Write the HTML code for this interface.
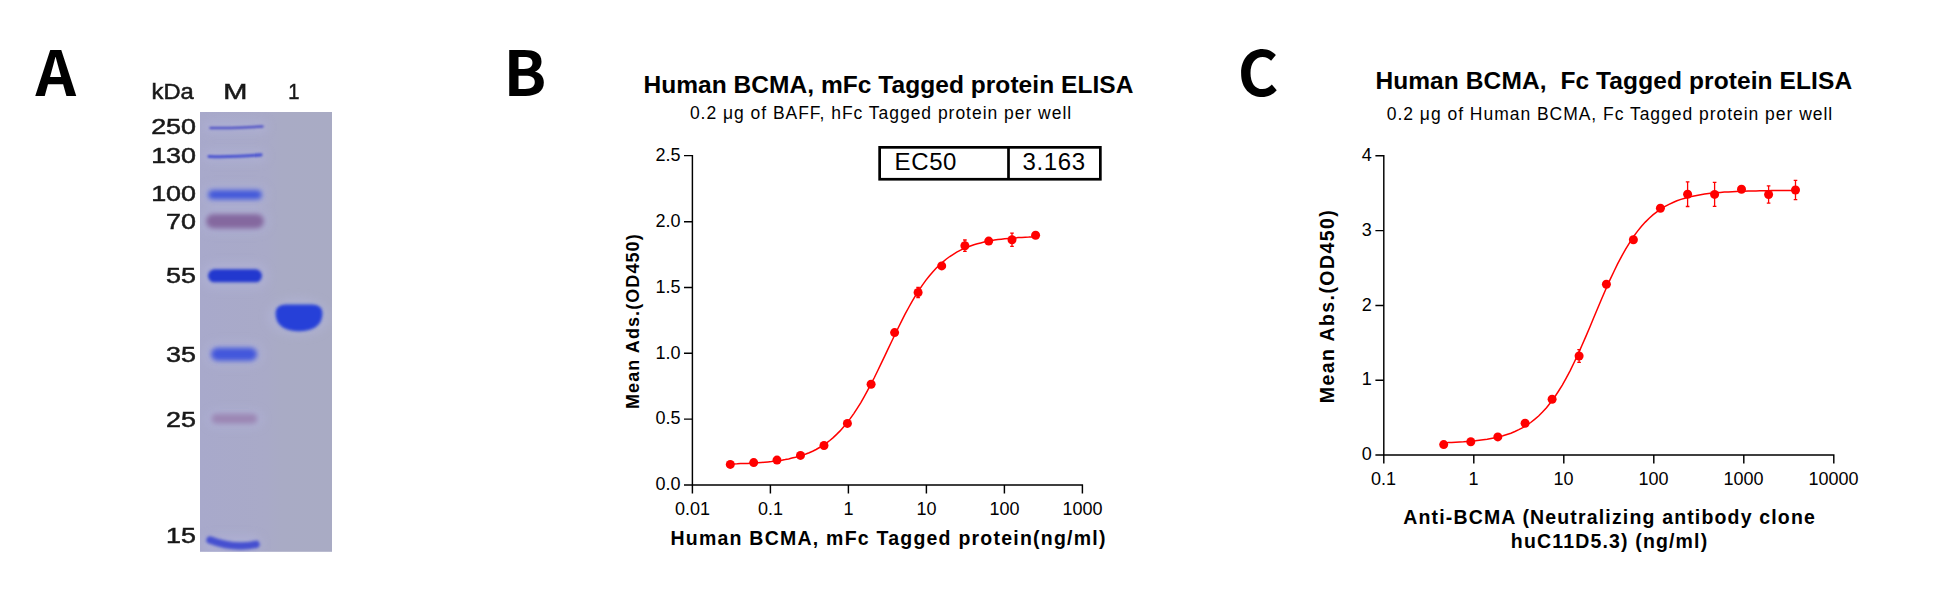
<!DOCTYPE html>
<html lang="en"><head><meta charset="utf-8"><title>BCMA protein figures</title>
<style>html,body{margin:0;padding:0;background:#fff}body{width:1956px;height:606px;overflow:hidden}svg{display:block}text{font-family:"Liberation Sans", sans-serif;fill:#000}.b{font-weight:bold}.pl{font-family:"Noto Sans CJK SC","Noto Sans CJK JP","DejaVu Sans",sans-serif;font-weight:bold}.gl{font-family:"Liberation Sans", sans-serif;fill:#1a1a1a}</style></head><body>
<svg width="1956" height="606" viewBox="0 0 1956 606">
<defs><filter id="bl0" x="-20%" y="-300%" width="140%" height="700%"><feGaussianBlur stdDeviation="0.95"/></filter><filter id="bl1" x="-20%" y="-100%" width="140%" height="300%"><feGaussianBlur stdDeviation="1.6"/></filter><filter id="bl2" x="-20%" y="-100%" width="140%" height="300%"><feGaussianBlur stdDeviation="2.4"/></filter><filter id="bl3" x="-30%" y="-100%" width="160%" height="300%"><feGaussianBlur stdDeviation="4"/></filter><filter id="tb" x="-10%" y="-30%" width="120%" height="160%"><feGaussianBlur stdDeviation="0.55"/></filter><linearGradient id="gbg" x1="0" x2="1" y1="0" y2="0"><stop offset="0" stop-color="#a8a9cb"/><stop offset="0.5" stop-color="#a9aac8"/><stop offset="0.62" stop-color="#a9abc5"/><stop offset="1" stop-color="#a9abc4"/></linearGradient><clipPath id="gclip"><rect x="200" y="112" width="132" height="439.8"/></clipPath></defs>
<rect width="1956" height="606" fill="#fff"/>
<text class="pl" transform="translate(35.6,96) scale(1.02,1)" font-size="62">A</text>
<text class="pl" transform="translate(503.4,96) scale(1.015,1)" font-size="62">B</text>
<text class="pl" x="1237.8" y="96" font-size="62">C</text>
<g id="gel">
<rect x="200" y="112" width="132" height="439.8" fill="url(#gbg)"/>
<g clip-path="url(#gclip)">
<g filter="url(#bl3)" opacity="0.5" fill="#b4b6dc">
<rect x="204.0" y="121.0" width="64.0" height="12.0" rx="6.0"/>
<rect x="203.0" y="150.0" width="64.0" height="12.0" rx="6.0"/>
<rect x="202.0" y="185.0" width="66.0" height="20.0" rx="10.0"/>
<rect x="201.0" y="209.0" width="68.0" height="24.0" rx="12.0"/>
<rect x="202.0" y="263.0" width="66.0" height="26.0" rx="13.0"/>
<rect x="205.0" y="342.0" width="58.0" height="24.0" rx="12.0"/>
<rect x="207.0" y="410.0" width="56.0" height="18.0" rx="9.0"/>
<rect x="202.0" y="535.0" width="60.0" height="18.0" rx="9.0"/>
<ellipse cx="298.5" cy="317" rx="31" ry="19"/>
</g>
<path d="M210.5,127.9 Q232,128.5 262.5,126.5" stroke="#5254c6" stroke-width="2.5" stroke-linecap="round" fill="none" filter="url(#bl0)"/>
<path d="M209,156.5 Q230,157.3 261,154.9" stroke="#4a52d0" stroke-width="3.1" stroke-linecap="round" fill="none" filter="url(#bl0)"/>
<rect x="208.0" y="190.1" width="54.0" height="9.5" rx="4.8" fill="#4258da" filter="url(#bl2)"/>
<rect x="206.0" y="213.9" width="58.0" height="14.5" rx="7.2" fill="#84679f" filter="url(#bl2)"/>
<rect x="208.0" y="269.3" width="54.0" height="13.0" rx="6.5" fill="#2238cf" filter="url(#bl1)"/>
<rect x="211.0" y="347.7" width="46.0" height="13.0" rx="6.5" fill="#4256dc" filter="url(#bl2)"/>
<rect x="211.5" y="413.8" width="46.0" height="10.0" rx="5.0" fill="#9b86b4" filter="url(#bl2)"/>
<path d="M210,540 Q234,549.2 256,544.3" stroke="#444fd0" stroke-width="7.4" stroke-linecap="round" fill="none" filter="url(#bl1)"/>
<path d="M275.6,312 Q276.5,304.6 286,304.4 L312,304.4 Q321.5,304.6 322.4,312 C322.8,320.5 319,327.2 309,330 Q299,332.4 289,330 C279,327.2 275.2,320.5 275.6,312 Z" fill="#2540d8" filter="url(#bl1)"/>
</g>
<text class="gl" transform="translate(151.6,99.3) scale(1.08,1)" font-size="22" text-anchor="start" stroke="#1a1a1a" stroke-width="0.5" filter="url(#tb)">kDa</text>
<text class="gl" transform="translate(223.2,99.3) scale(1.37,1)" font-size="21.2" text-anchor="start" stroke="#1a1a1a" stroke-width="0.5" filter="url(#tb)">M</text>
<text class="gl" transform="translate(288.2,99.3) scale(0.95,1)" font-size="21.2" text-anchor="start" stroke="#1a1a1a" stroke-width="0.5" filter="url(#tb)">1</text>
<text class="gl" transform="translate(196.0,133.8) scale(1.25,1)" font-size="21.5" text-anchor="end" stroke="#1a1a1a" stroke-width="0.5" filter="url(#tb)">250</text>
<text class="gl" transform="translate(196.0,163.2) scale(1.25,1)" font-size="21.5" text-anchor="end" stroke="#1a1a1a" stroke-width="0.5" filter="url(#tb)">130</text>
<text class="gl" transform="translate(196.0,201.2) scale(1.25,1)" font-size="21.5" text-anchor="end" stroke="#1a1a1a" stroke-width="0.5" filter="url(#tb)">100</text>
<text class="gl" transform="translate(196.0,229) scale(1.25,1)" font-size="21.5" text-anchor="end" stroke="#1a1a1a" stroke-width="0.5" filter="url(#tb)">70</text>
<text class="gl" transform="translate(196.0,282.6) scale(1.25,1)" font-size="21.5" text-anchor="end" stroke="#1a1a1a" stroke-width="0.5" filter="url(#tb)">55</text>
<text class="gl" transform="translate(196.0,362.2) scale(1.25,1)" font-size="21.5" text-anchor="end" stroke="#1a1a1a" stroke-width="0.5" filter="url(#tb)">35</text>
<text class="gl" transform="translate(196.0,427.2) scale(1.25,1)" font-size="21.5" text-anchor="end" stroke="#1a1a1a" stroke-width="0.5" filter="url(#tb)">25</text>
<text class="gl" transform="translate(196.0,543.4) scale(1.25,1)" font-size="21.5" text-anchor="end" stroke="#1a1a1a" stroke-width="0.5" filter="url(#tb)">15</text>
</g>
<g id="chartB">
<text class="b" x="888.4" y="92.8" font-size="24.5" text-anchor="middle" letter-spacing="0.05">Human BCMA, mFc Tagged protein ELISA</text>
<text x="881" y="118.7" font-size="17.5" text-anchor="middle" letter-spacing="0.97">0.2 μg of BAFF, hFc Tagged protein per well</text>
<path d="M692.4,154.9 V484.9 M684.0,484.9 H1083.1 M684.0,419.1 H692.4 M684.0,353.3 H692.4 M684.0,287.5 H692.4 M684.0,221.7 H692.4 M684.0,155.6 H692.4 M692.4,484.9 V493.5 M770.4,484.9 V493.5 M848.4,484.9 V493.5 M926.4,484.9 V493.5 M1004.4,484.9 V493.5 M1082.4,484.9 V493.5" stroke="#000" stroke-width="1.45" fill="none"/>
<text x="680.6" y="490.2" font-size="18" text-anchor="end">0.0</text>
<text x="680.6" y="424.4" font-size="18" text-anchor="end">0.5</text>
<text x="680.6" y="358.6" font-size="18" text-anchor="end">1.0</text>
<text x="680.6" y="292.8" font-size="18" text-anchor="end">1.5</text>
<text x="680.6" y="227.0" font-size="18" text-anchor="end">2.0</text>
<text x="680.6" y="160.9" font-size="18" text-anchor="end">2.5</text>
<text x="692.4" y="514.8" font-size="18" text-anchor="middle">0.01</text>
<text x="770.4" y="514.8" font-size="18" text-anchor="middle">0.1</text>
<text x="848.4" y="514.8" font-size="18" text-anchor="middle">1</text>
<text x="926.4" y="514.8" font-size="18" text-anchor="middle">10</text>
<text x="1004.4" y="514.8" font-size="18" text-anchor="middle">100</text>
<text x="1082.4" y="514.8" font-size="18" text-anchor="middle">1000</text>
<text class="b" x="888.6" y="544.9" font-size="19.5" text-anchor="middle" letter-spacing="1.23">Human BCMA, mFc Tagged protein(ng/ml)</text>
<text class="b" transform="translate(639.2,321.1) rotate(-90)" font-size="18" text-anchor="middle" letter-spacing="1.09">Mean Ads.(OD450)</text>
<rect x="879.65" y="147.35" width="220.7" height="31.9" fill="#fff" stroke="#000" stroke-width="2.7"/>
<path d="M1008.5,147.35 V179.25" stroke="#000" stroke-width="2.7"/>
<text x="894.6" y="169.8" font-size="24" letter-spacing="0.6">EC50</text>
<text x="1022.6" y="169.8" font-size="24" letter-spacing="0.6">3.163</text>
<path d="M730.3,463.9 L733.7,463.9 L737.2,463.8 L740.6,463.6 L744.0,463.5 L747.5,463.4 L750.9,463.2 L754.3,463.0 L757.7,462.8 L761.2,462.5 L764.6,462.2 L768.0,461.9 L771.5,461.6 L774.9,461.1 L778.3,460.7 L781.8,460.2 L785.2,459.6 L788.6,458.9 L792.0,458.1 L795.5,457.3 L798.9,456.3 L802.3,455.2 L805.8,454.0 L809.2,452.7 L812.6,451.2 L816.1,449.5 L819.5,447.5 L822.9,445.4 L826.3,443.1 L829.8,440.5 L833.2,437.6 L836.6,434.4 L840.1,430.9 L843.5,427.1 L846.9,422.9 L850.4,418.4 L853.8,413.6 L857.2,408.4 L860.7,402.8 L864.1,396.9 L867.5,390.7 L870.9,384.2 L874.4,377.5 L877.8,370.5 L881.2,363.4 L884.7,356.2 L888.1,348.9 L891.5,341.7 L895.0,334.5 L898.4,327.5 L901.8,320.6 L905.2,313.9 L908.7,307.5 L912.1,301.4 L915.5,295.6 L919.0,290.2 L922.4,285.1 L925.8,280.4 L929.3,276.0 L932.7,272.0 L936.1,268.3 L939.6,264.9 L943.0,261.8 L946.4,259.0 L949.8,256.5 L953.3,254.3 L956.7,252.2 L960.1,250.4 L963.6,248.7 L967.0,247.3 L970.4,246.0 L973.9,244.8 L977.3,243.8 L980.7,242.9 L984.1,242.0 L987.6,241.3 L991.0,240.7 L994.4,240.1 L997.9,239.6 L1001.3,239.2 L1004.7,238.8 L1008.2,238.4 L1011.6,238.1 L1015.0,237.9 L1018.4,237.6 L1021.9,237.4 L1025.3,237.2 L1028.7,237.1 L1032.2,236.9 L1035.6,236.8" stroke="#f00" stroke-width="1.5" fill="none"/>
<path d="M918.1,287.3 V297.7 M916.3,287.3 h3.6 M916.3,297.7 h3.6 M964.9,240.0 V251.4 M963.1,240.0 h3.6 M963.1,251.4 h3.6 M1012.0,233.1 V246.3 M1010.2,233.1 h3.6 M1010.2,246.3 h3.6" stroke="#f00" stroke-width="1.3" fill="none"/>
<circle cx="730.3" cy="464.4" r="4.5" fill="#f00"/>
<circle cx="753.7" cy="462.6" r="4.5" fill="#f00"/>
<circle cx="777.0" cy="460.1" r="4.5" fill="#f00"/>
<circle cx="800.5" cy="455.4" r="4.5" fill="#f00"/>
<circle cx="824.0" cy="445.5" r="4.5" fill="#f00"/>
<circle cx="847.4" cy="423.4" r="4.5" fill="#f00"/>
<circle cx="871.1" cy="384.3" r="4.5" fill="#f00"/>
<circle cx="894.6" cy="332.6" r="4.5" fill="#f00"/>
<circle cx="918.1" cy="292.5" r="4.5" fill="#f00"/>
<circle cx="941.7" cy="265.9" r="4.5" fill="#f00"/>
<circle cx="964.9" cy="245.7" r="4.5" fill="#f00"/>
<circle cx="988.7" cy="241.1" r="4.5" fill="#f00"/>
<circle cx="1012.0" cy="239.7" r="4.5" fill="#f00"/>
<circle cx="1035.6" cy="235.3" r="4.5" fill="#f00"/>
</g>
<g id="chartC">
<text class="b" x="1613.8" y="88.7" font-size="24.5" text-anchor="middle" letter-spacing="0.1" xml:space="preserve">Human BCMA,  Fc Tagged protein ELISA</text>
<text x="1610" y="119.7" font-size="17.5" text-anchor="middle" letter-spacing="0.97">0.2 μg of Human BCMA, Fc Tagged protein per well</text>
<path d="M1383.8,155.0 V455.0 M1375.4,455.0 H1834.5 M1375.4,380.2 H1383.8 M1375.4,305.4 H1383.8 M1375.4,230.6 H1383.8 M1375.4,155.7 H1383.8 M1383.8,455.0 V463.6 M1473.8,455.0 V463.6 M1563.8,455.0 V463.6 M1653.8,455.0 V463.6 M1743.8,455.0 V463.6 M1833.8,455.0 V463.6" stroke="#000" stroke-width="1.45" fill="none"/>
<text x="1371.8" y="460.2" font-size="18" text-anchor="end">0</text>
<text x="1371.8" y="385.4" font-size="18" text-anchor="end">1</text>
<text x="1371.8" y="310.6" font-size="18" text-anchor="end">2</text>
<text x="1371.8" y="235.8" font-size="18" text-anchor="end">3</text>
<text x="1371.8" y="160.9" font-size="18" text-anchor="end">4</text>
<text x="1383.5" y="484.7" font-size="18" text-anchor="middle">0.1</text>
<text x="1473.5" y="484.7" font-size="18" text-anchor="middle">1</text>
<text x="1563.5" y="484.7" font-size="18" text-anchor="middle">10</text>
<text x="1653.5" y="484.7" font-size="18" text-anchor="middle">100</text>
<text x="1743.5" y="484.7" font-size="18" text-anchor="middle">1000</text>
<text x="1833.5" y="484.7" font-size="18" text-anchor="middle">10000</text>
<text class="b" x="1609.6" y="524.4" font-size="19.5" text-anchor="middle" letter-spacing="1.16">Anti-BCMA (Neutralizing antibody clone</text>
<text class="b" x="1609.6" y="547.8" font-size="19.5" text-anchor="middle" letter-spacing="1.16">huC11D5.3) (ng/ml)</text>
<text class="b" transform="translate(1333.6,306) rotate(-90)" font-size="19.5" text-anchor="middle" letter-spacing="1.42">Mean Abs.(OD450)</text>
<path d="M1443.7,442.7 L1447.7,442.6 L1451.6,442.4 L1455.6,442.2 L1459.5,442.0 L1463.5,441.8 L1467.4,441.5 L1471.4,441.2 L1475.3,440.8 L1479.3,440.3 L1483.2,439.8 L1487.2,439.2 L1491.1,438.5 L1495.1,437.7 L1499.0,436.8 L1503.0,435.8 L1506.9,434.5 L1510.9,433.2 L1514.9,431.5 L1518.8,429.7 L1522.8,427.6 L1526.7,425.2 L1530.7,422.5 L1534.6,419.4 L1538.6,416.0 L1542.5,412.1 L1546.5,407.7 L1550.4,402.8 L1554.4,397.5 L1558.3,391.5 L1562.3,385.1 L1566.2,378.1 L1570.2,370.6 L1574.1,362.5 L1578.1,354.1 L1582.0,345.2 L1586.0,336.1 L1590.0,326.7 L1593.9,317.3 L1597.9,307.8 L1601.8,298.5 L1605.8,289.3 L1609.7,280.4 L1613.7,272.0 L1617.6,263.9 L1621.6,256.3 L1625.5,249.3 L1629.5,242.8 L1633.4,236.8 L1637.4,231.4 L1641.3,226.5 L1645.3,222.1 L1649.2,218.2 L1653.2,214.7 L1657.2,211.6 L1661.1,208.8 L1665.1,206.4 L1669.0,204.3 L1673.0,202.5 L1676.9,200.8 L1680.9,199.4 L1684.8,198.2 L1688.8,197.1 L1692.7,196.2 L1696.7,195.4 L1700.6,194.7 L1704.6,194.1 L1708.5,193.6 L1712.5,193.1 L1716.4,192.7 L1720.4,192.4 L1724.3,192.1 L1728.3,191.9 L1732.3,191.7 L1736.2,191.5 L1740.2,191.3 L1744.1,191.2 L1748.1,191.0 L1752.0,190.9 L1756.0,190.9 L1759.9,190.8 L1763.9,190.7 L1767.8,190.7 L1771.8,190.6 L1775.7,190.6 L1779.7,190.5 L1783.6,190.5 L1787.6,190.5 L1791.5,190.4 L1795.5,190.4" stroke="#f00" stroke-width="1.5" fill="none"/>
<path d="M1579.1,349.6 V362.4 M1577.3,349.6 h3.6 M1577.3,362.4 h3.6 M1687.6,181.9 V206.5 M1685.8,181.9 h3.6 M1685.8,206.5 h3.6 M1714.6,182.4 V206.4 M1712.8,182.4 h3.6 M1712.8,206.4 h3.6 M1768.6,185.8 V203.2 M1766.8,185.8 h3.6 M1766.8,203.2 h3.6 M1795.5,180.4 V199.6 M1793.7,180.4 h3.6 M1793.7,199.6 h3.6" stroke="#f00" stroke-width="1.3" fill="none"/>
<circle cx="1443.7" cy="444.6" r="4.5" fill="#f00"/>
<circle cx="1470.8" cy="441.8" r="4.5" fill="#f00"/>
<circle cx="1497.8" cy="436.9" r="4.5" fill="#f00"/>
<circle cx="1525.1" cy="423.3" r="4.5" fill="#f00"/>
<circle cx="1552.1" cy="399.3" r="4.5" fill="#f00"/>
<circle cx="1579.1" cy="356.0" r="4.5" fill="#f00"/>
<circle cx="1606.4" cy="284.2" r="4.5" fill="#f00"/>
<circle cx="1633.4" cy="239.7" r="4.5" fill="#f00"/>
<circle cx="1660.4" cy="208.3" r="4.5" fill="#f00"/>
<circle cx="1687.6" cy="194.2" r="4.5" fill="#f00"/>
<circle cx="1714.6" cy="194.4" r="4.5" fill="#f00"/>
<circle cx="1741.5" cy="189.3" r="4.5" fill="#f00"/>
<circle cx="1768.6" cy="194.5" r="4.5" fill="#f00"/>
<circle cx="1795.5" cy="190.0" r="4.5" fill="#f00"/>
</g>
</svg></body></html>
